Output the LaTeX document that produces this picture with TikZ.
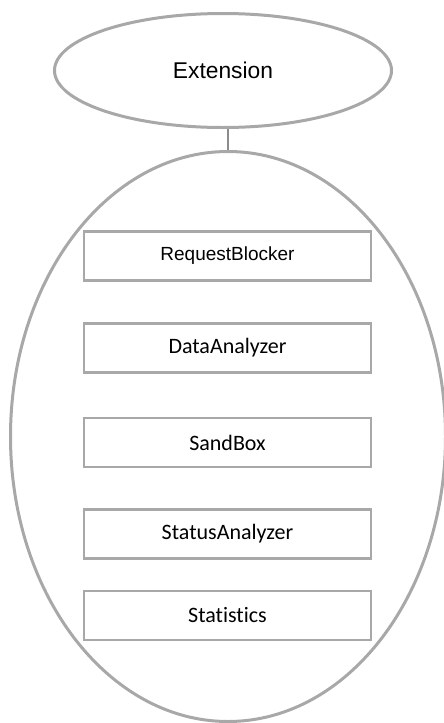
\documentclass[tikz,border=0pt]{standalone}
\usepackage{fontspec}
\setmainfont{Liberation Sans}
\newfontfamily\calib[Ligatures=NoCommon]{Carlito}
\usetikzlibrary{shapes.geometric}
\definecolor{outl}{RGB}{168,168,168}
\definecolor{conn}{RGB}{140,140,140}
\begin{document}
\begin{tikzpicture}[x=1pt,y=-1pt,
  oval/.style={ellipse,draw=outl,line width=3pt,inner sep=0pt},
  modbox/.style={rectangle,draw=outl,line width=2.6pt,minimum width=287pt,minimum height=49pt,inner sep=0pt,font=\calib\fontsize{22}{24}\selectfont},
  link/.style={draw=conn,line width=1.2pt}]
\useasboundingbox (0,0) rectangle (444,723);
\node[oval,minimum width=337pt,minimum height=114pt,font=\fontsize{22.8}{24}\selectfont] (ext) at (223,70.5) {Extension};
\node[oval,minimum width=435pt,minimum height=570pt] (core) at (228,436.5) {};
\node[modbox,font=\fontsize{19}{22}\selectfont] (rb) at (227.5,256) {RequestBlocker};
\node[modbox] (da) at (227.5,348) {DataAnalyzer};
\node[modbox] (sb) at (227.5,442.5) {SandBox};
\node[modbox] (sa) at (227.5,534) {StatusAnalyzer};
\node[modbox] (st) at (227.5,615.5) {Statistics};
\draw[link] (core.north |- ext.south) -- (core.north);
\end{tikzpicture}
\end{document}
